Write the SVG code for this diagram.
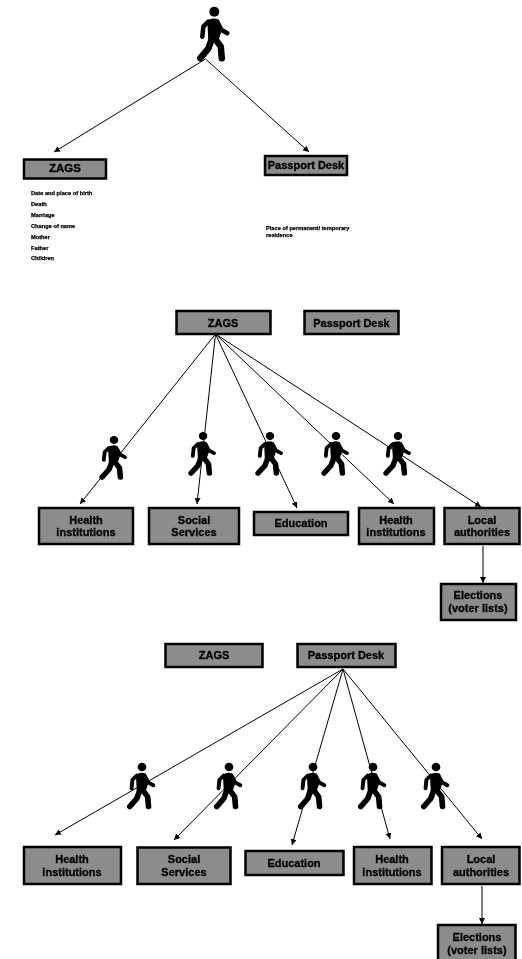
<svg xmlns="http://www.w3.org/2000/svg" width="522" height="959" viewBox="0 0 522 959">
<style>
.box{fill:#8c8c8c;stroke:#000;stroke-width:2.5}
.lbl{font-family:"Liberation Sans",Arial,sans-serif;font-weight:bold;font-size:11px;fill:#000;stroke:#000;stroke-width:.3;text-anchor:middle}
.small{font-family:"Liberation Sans",Arial,sans-serif;font-weight:bold;font-size:5.7px;fill:#000;stroke:#000;stroke-width:.25}
.conn{stroke:#000;stroke-width:1;fill:none;marker-end:url(#arrow)}
</style>
<defs>
<filter id="soft" x="0" y="0" width="522" height="959" filterUnits="userSpaceOnUse"><feGaussianBlur stdDeviation="0.35"/></filter>
<marker id="arrow" markerUnits="userSpaceOnUse" markerWidth="8" markerHeight="8" refX="6" refY="3" orient="auto">
<path d="M0,0 L6,3 L0,6 Z" fill="#000"/>
</marker>
<g id="walker">
<circle cx="0" cy="0" r="5" fill="#000"/>
<path d="M-7,9 Q-1,5 4,8 L7,20 L4,29 L-6,29 Z" fill="#000"/>
<path d="M-6,10 L-11,15 L-12,25 M3,10 L7,18 L13,21.500" fill="none" stroke="#000" stroke-width="4.500" stroke-linecap="round" stroke-linejoin="round"/>
<path d="M-2,26 L-6,37 L-14,46.500 M0,26 L6.500,35 L7.500,46.500" fill="none" stroke="#000" stroke-width="6.500" stroke-linecap="round" stroke-linejoin="round"/>
</g>
</defs>
<g id="scene" filter="url(#soft)">
<g id="connectors">
<path class="conn" d="M205.500,59 L54,152"/>
<path class="conn" d="M205.500,59 L309,152"/>
<path class="conn" d="M215.500,334 L80,504"/>
<path class="conn" d="M215.500,334 L197,504"/>
<path class="conn" d="M215.500,334 L297,508"/>
<path class="conn" d="M215.500,334 L394,504"/>
<path class="conn" d="M215.500,334 L481,507"/>
<path class="conn" d="M483,546 L483,583"/>
<path class="conn" d="M343,669 L55,835"/>
<path class="conn" d="M343,669 L174,840"/>
<path class="conn" d="M343,669 L292,845"/>
<path class="conn" d="M343,669 L390,839"/>
<path class="conn" d="M343,669 L482,839"/>
<path class="conn" d="M482,886 L482,924"/>
</g>
<g id="walker-top"><use href="#walker" transform="translate(214.300,11.700)"/></g>
<g id="walker-a1"><use href="#walker" transform="translate(114,440) scale(.85,.8)"/></g>
<g id="walker-a2"><use href="#walker" transform="translate(203,436) scale(.85,.8)"/></g>
<g id="walker-a3"><use href="#walker" transform="translate(270,436) scale(.85,.8)"/></g>
<g id="walker-a4"><use href="#walker" transform="translate(336,436) scale(.85,.8)"/></g>
<g id="walker-a5"><use href="#walker" transform="translate(398,436) scale(.85,.8)"/></g>
<g id="walker-b1"><use href="#walker" transform="translate(142,767) scale(.87,.85)"/></g>
<g id="walker-b2"><use href="#walker" transform="translate(229,767) scale(.87,.85)"/></g>
<g id="walker-b3"><use href="#walker" transform="translate(313,767) scale(.87,.85)"/></g>
<g id="walker-b4"><use href="#walker" transform="translate(373,767) scale(.87,.85)"/></g>
<g id="walker-b5"><use href="#walker" transform="translate(436,767) scale(.87,.85)"/></g>

<g id="zags-top"><rect class="box" x="24" y="159.500" width="82" height="19"/><text class="lbl" x="65" y="172" style="font-size:11.500px">ZAGS</text></g>
<g id="passport-top"><rect class="box" x="265" y="156" width="82" height="19"/><text class="lbl" x="306" y="169">Passport Desk</text></g>
<g id="zags-notes">
<text class="small" x="31" y="195">Date and place of birth</text>
<text class="small" x="31" y="206">Death</text>
<text class="small" x="31" y="217">Marriage</text>
<text class="small" x="31" y="228">Change of name</text>
<text class="small" x="31" y="239">Mother</text>
<text class="small" x="31" y="250">Father</text>
<text class="small" x="31" y="260">Children</text>
</g>
<g id="passport-notes">
<text class="small" x="266" y="230">Place of permanent/ temporary</text>
<text class="small" x="266" y="237">residence</text>
</g>

<g id="zags-a"><rect class="box" x="176.500" y="311" width="94" height="23"/><text class="lbl" x="223" y="326.500">ZAGS</text></g>
<g id="passport-a"><rect class="box" x="304.500" y="311" width="94" height="23"/><text class="lbl" x="351.500" y="326.500">Passport Desk</text></g>
<g id="health-a"><rect class="box" x="39" y="508" width="94" height="36"/><text class="lbl" x="86" y="524">Health</text><text class="lbl" x="86" y="536">institutions</text></g>
<g id="social-a"><rect class="box" x="149" y="508" width="90" height="36"/><text class="lbl" x="194" y="524">Social</text><text class="lbl" x="194" y="536">Services</text></g>
<g id="education-a"><rect class="box" x="254" y="512" width="94" height="23"/><text class="lbl" x="301" y="527">Education</text></g>
<g id="health-a2"><rect class="box" x="359" y="508" width="75" height="36"/><text class="lbl" x="396" y="524">Health</text><text class="lbl" x="396" y="536">institutions</text></g>
<g id="local-a"><rect class="box" x="444.500" y="508" width="75" height="36"/><text class="lbl" x="482" y="524">Local</text><text class="lbl" x="482" y="536">authorities</text></g>
<g id="elections-a"><rect class="box" x="441" y="584" width="75" height="36"/><text class="lbl" x="478" y="599">Elections</text><text class="lbl" x="478" y="612">(voter lists)</text></g>

<g id="zags-b"><rect class="box" x="165.500" y="644" width="97" height="23"/><text class="lbl" x="214" y="659">ZAGS</text></g>
<g id="passport-b"><rect class="box" x="297.500" y="644" width="98" height="23"/><text class="lbl" x="346" y="659">Passport Desk</text></g>
<g id="health-b"><rect class="box" x="24" y="847" width="97" height="37"/><text class="lbl" x="72" y="863">Health</text><text class="lbl" x="72" y="876">institutions</text></g>
<g id="social-b"><rect class="box" x="137.500" y="847.500" width="93" height="36.500"/><text class="lbl" x="184" y="863">Social</text><text class="lbl" x="184" y="876">Services</text></g>
<g id="education-b"><rect class="box" x="245.500" y="851" width="98" height="24"/><text class="lbl" x="294" y="867">Education</text></g>
<g id="health-b2"><rect class="box" x="354" y="847" width="77.500" height="37"/><text class="lbl" x="392" y="863">Health</text><text class="lbl" x="392" y="876">institutions</text></g>
<g id="local-b"><rect class="box" x="442" y="847" width="77.500" height="37"/><text class="lbl" x="481" y="863">Local</text><text class="lbl" x="481" y="876">authorities</text></g>
<g id="elections-b"><rect class="box" x="438" y="925" width="77.500" height="37"/><text class="lbl" x="477" y="941">Elections</text><text class="lbl" x="477" y="954">(voter lists)</text></g>
</g>
</svg>
